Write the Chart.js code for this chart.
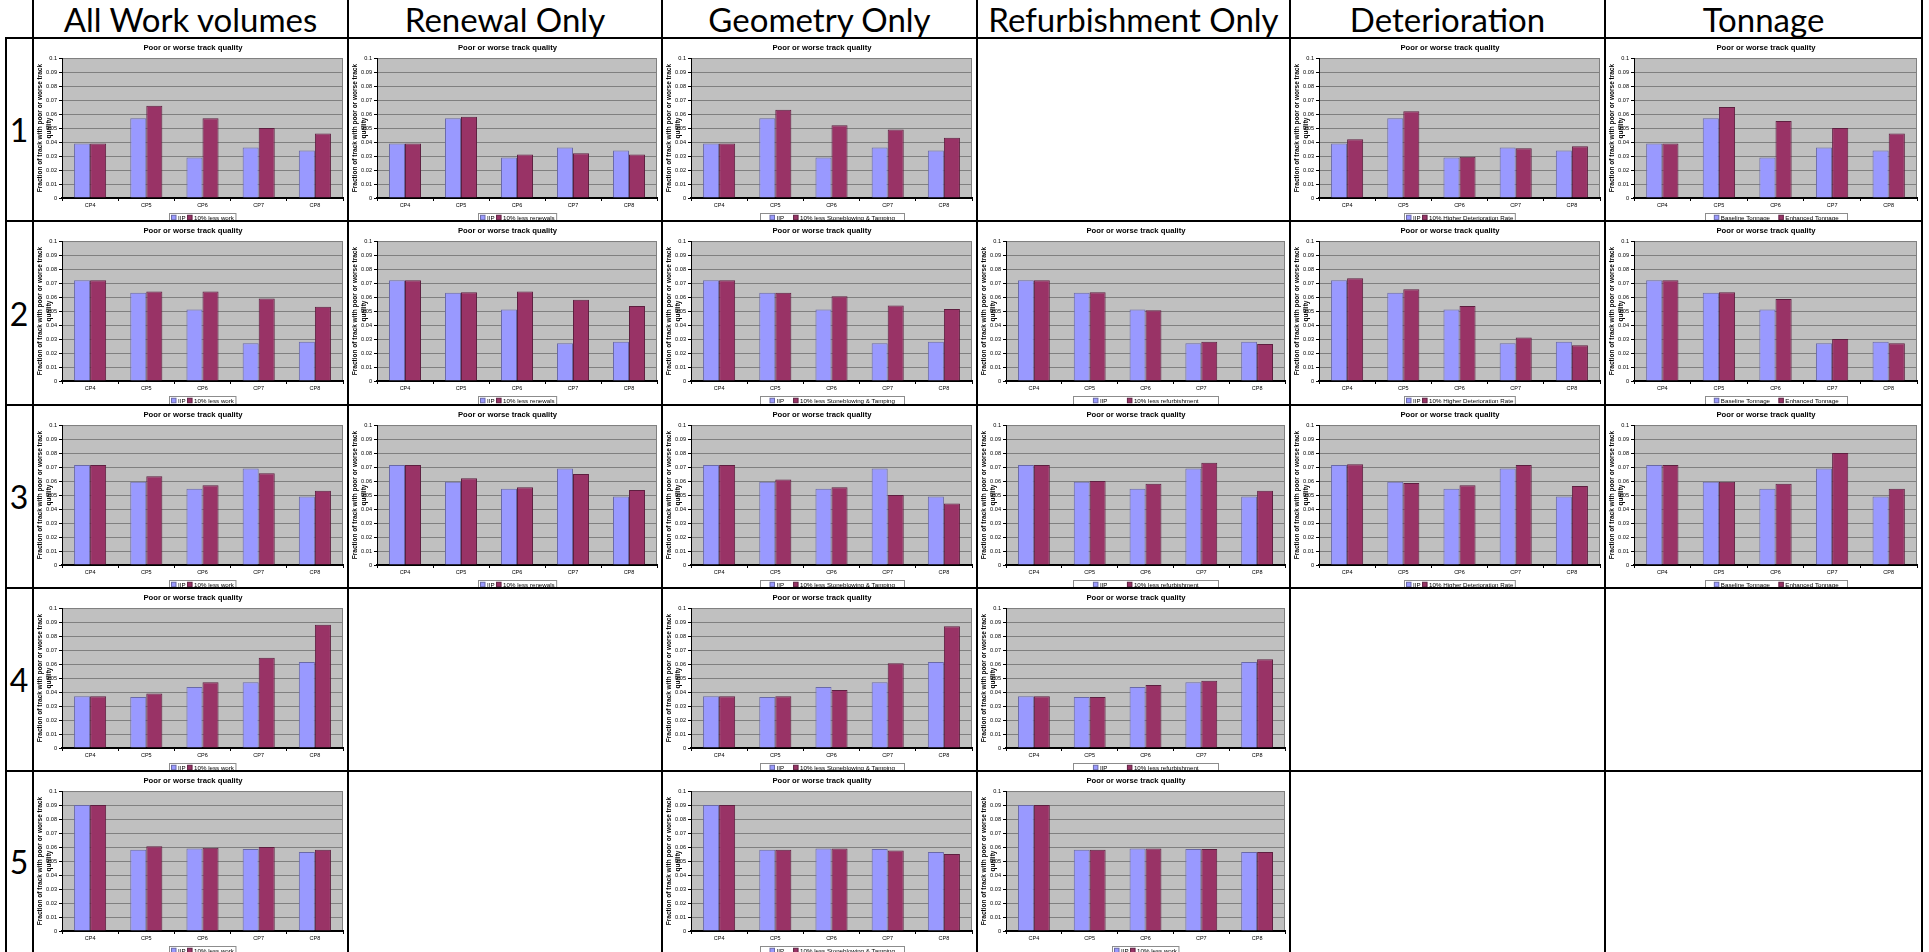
<!DOCTYPE html>
<html>
<head>
<meta charset="utf-8">
<script src="https://cdn.jsdelivr.net/npm/chart.js@4.4.1/dist/chart.umd.min.js"></script>
<style>
  html, body { margin: 0; padding: 0; background: #fff; }
  #sheet { position: relative; width: 1929px; height: 952px; overflow: hidden; }
  .rule { position: absolute; background: #000; z-index: 5; }
  .head, .rowno {
    position: absolute; display: flex; align-items: center; justify-content: center;
    font-family: Lato, "Liberation Sans", sans-serif; color: #000; white-space: nowrap;
  }
  .head { top: 0; height: 38px; font-size: 33px; }
  .rowno { left: 5px; width: 28px; font-size: 32px; }
  canvas { position: absolute; }
</style>
</head>
<body>
<div id="sheet"></div>
<script>
// ---- labels ----
const categories = ['CP4', 'CP5', 'CP6', 'CP7', 'CP8'];
const columnTitles = ['All Work volumes', 'Renewal Only', 'Geometry Only', 'Refurbishment Only', 'Deterioration', 'Tonnage'];
const rowLabels = ['1', '2', '3', '4', '5'];
const chartTitle = 'Poor or worse track quality';
const yAxisTitle = ['Fraction of track with poor or worse track', 'quality'];
const yAxisMax = 0.1;
const yAxisStep = 0.01;

// ---- baseline (IIP) per scenario row ----
const iip1 = [0.039, 0.057, 0.029, 0.036, 0.034];
const iip2 = [0.072, 0.063, 0.051, 0.027, 0.028];
const iip3 = [0.0715, 0.0595, 0.0545, 0.069, 0.049];
const iip4 = [0.037, 0.0365, 0.0435, 0.047, 0.0615];
const iip5 = [0.090, 0.058, 0.059, 0.0585, 0.0565];

// ---- 10% less work (all volumes) ----
const lessWork1 = [0.039, 0.066, 0.057, 0.050, 0.046];
const lessWork2 = [0.072, 0.064, 0.064, 0.059, 0.053];
const lessWork3 = [0.0715, 0.0635, 0.057, 0.0655, 0.053];
const lessWork4 = [0.037, 0.039, 0.047, 0.0645, 0.088];
const lessWork5 = [0.090, 0.0605, 0.0595, 0.060, 0.058];

// ---- 10% less renewals ----
const lessRenewals1 = [0.039, 0.058, 0.031, 0.032, 0.031];
const lessRenewals2 = [0.072, 0.0635, 0.064, 0.058, 0.0535];
const lessRenewals3 = [0.0715, 0.062, 0.0555, 0.065, 0.0535];

// ---- 10% less stoneblowing & tamping ----
const lessTamping1 = [0.039, 0.063, 0.052, 0.049, 0.043];
const lessTamping2 = [0.072, 0.063, 0.0605, 0.054, 0.0515];
const lessTamping3 = [0.0715, 0.061, 0.0555, 0.050, 0.044];
const lessTamping4 = [0.037, 0.037, 0.0415, 0.0605, 0.087];
const lessTamping5 = [0.090, 0.058, 0.059, 0.0575, 0.055];

// ---- 10% less refurbishment ----
const lessRefurb2 = [0.072, 0.0635, 0.0505, 0.028, 0.0265];
const lessRefurb3 = [0.0715, 0.060, 0.058, 0.073, 0.053];
const lessRefurb4 = [0.037, 0.0365, 0.045, 0.048, 0.0635];
const refurbLessWork5 = [0.090, 0.058, 0.059, 0.0585, 0.0565];

// ---- 10% higher deterioration rate ----
const higherDet1 = [0.042, 0.062, 0.0295, 0.0355, 0.037];
const higherDet2 = [0.0735, 0.0655, 0.0535, 0.031, 0.0255];
const higherDet3 = [0.072, 0.0585, 0.057, 0.0715, 0.0565];

// ---- enhanced tonnage ----
const enhancedTonnage1 = [0.039, 0.065, 0.055, 0.050, 0.046];
const enhancedTonnage2 = [0.072, 0.0635, 0.0585, 0.030, 0.027];
const enhancedTonnage3 = [0.0715, 0.0595, 0.058, 0.080, 0.0545];

// which panel sits in which cell of the table
const panels = [
  { row: 0, col: 0, names: ['IIP', '10% less work'], values: [iip1, lessWork1] },
  { row: 0, col: 1, names: ['IIP', '10% less renewals'], values: [iip1, lessRenewals1] },
  { row: 0, col: 2, names: ['IIP', '10% less Stoneblowing & Tamping'], values: [iip1, lessTamping1] },
  { row: 0, col: 4, names: ['IIP', '10% Higher Deterioration Rate'], values: [iip1, higherDet1] },
  { row: 0, col: 5, names: ['Baseline Tonnage', 'Enhanced Tonnage'], values: [iip1, enhancedTonnage1] },

  { row: 1, col: 0, names: ['IIP', '10% less work'], values: [iip2, lessWork2] },
  { row: 1, col: 1, names: ['IIP', '10% less renewals'], values: [iip2, lessRenewals2] },
  { row: 1, col: 2, names: ['IIP', '10% less Stoneblowing & Tamping'], values: [iip2, lessTamping2] },
  { row: 1, col: 3, names: ['IIP', '10% less refurbishment'], values: [iip2, lessRefurb2] },
  { row: 1, col: 4, names: ['IIP', '10% Higher Deterioration Rate'], values: [iip2, higherDet2] },
  { row: 1, col: 5, names: ['Baseline Tonnage', 'Enhanced Tonnage'], values: [iip2, enhancedTonnage2] },

  { row: 2, col: 0, names: ['IIP', '10% less work'], values: [iip3, lessWork3] },
  { row: 2, col: 1, names: ['IIP', '10% less renewals'], values: [iip3, lessRenewals3] },
  { row: 2, col: 2, names: ['IIP', '10% less Stoneblowing & Tamping'], values: [iip3, lessTamping3] },
  { row: 2, col: 3, names: ['IIP', '10% less refurbishment'], values: [iip3, lessRefurb3] },
  { row: 2, col: 4, names: ['IIP', '10% Higher Deterioration Rate'], values: [iip3, higherDet3] },
  { row: 2, col: 5, names: ['Baseline Tonnage', 'Enhanced Tonnage'], values: [iip3, enhancedTonnage3] },

  { row: 3, col: 0, names: ['IIP', '10% less work'], values: [iip4, lessWork4] },
  { row: 3, col: 2, names: ['IIP', '10% less Stoneblowing & Tamping'], values: [iip4, lessTamping4] },
  { row: 3, col: 3, names: ['IIP', '10% less refurbishment'], values: [iip4, lessRefurb4] },

  { row: 4, col: 0, names: ['IIP', '10% less work'], values: [iip5, lessWork5] },
  { row: 4, col: 2, names: ['IIP', '10% less Stoneblowing & Tamping'], values: [iip5, lessTamping5] },
  { row: 4, col: 3, names: ['IIP', '10% less work'], values: [iip5, refurbLessWork5] }
];

// ---- table geometry and styling ----
const colEdges = [33, 348, 662, 977, 1290, 1605, 1922];
const rowEdges = [38, 221, 405, 588, 771, 952];
const tableLeft = 6;
const seriesFill = ['#9999FF', '#993366'];
const seriesEdge = ['#6a6aa8', '#5e1f40'];
const legendMinWidth = { '10% less Stoneblowing & Tamping': 144, '10% less refurbishment': 145, 'Enhanced Tonnage': 142 };
const FONT = "'Liberation Sans', Arial, sans-serif";

Chart.defaults.font.family = FONT;
Chart.defaults.color = '#000';

const sheet = document.getElementById('sheet');

function rule(x, y, w, h) {
  const d = document.createElement('div');
  d.className = 'rule';
  Object.assign(d.style, { left: x + 'px', top: y + 'px', width: w + 'px', height: h + 'px' });
  sheet.appendChild(d);
}

// table rules
colEdges.forEach(x => rule(x - 1, 0, 2, 952));
rule(tableLeft - 1, rowEdges[0] - 1, 2, 952 - rowEdges[0] + 1);
rowEdges.slice(0, -1).forEach(y => rule(tableLeft - 1, y - 1, colEdges[colEdges.length - 1] - tableLeft + 2, 2));

// column headings and row numbers
columnTitles.forEach((t, i) => {
  const d = document.createElement('div');
  d.className = 'head';
  d.textContent = t;
  d.style.left = colEdges[i] + 'px';
  d.style.width = (colEdges[i + 1] - colEdges[i]) + 'px';
  sheet.appendChild(d);
});
rowLabels.forEach((t, i) => {
  const d = document.createElement('div');
  d.className = 'rowno';
  d.textContent = t;
  d.style.top = rowEdges[i] + 'px';
  d.style.height = (rowEdges[i + 1] - rowEdges[i]) + 'px';
  sheet.appendChild(d);
});

// grey plot area with its frame
const plotBackground = {
  id: 'plotBackground',
  beforeDraw(chart) {
    const { ctx, chartArea: a } = chart;
    ctx.save();
    ctx.fillStyle = '#C0C0C0';
    ctx.fillRect(a.left, a.top, a.width, a.height);
    ctx.strokeStyle = '#808080';
    ctx.lineWidth = 1;
    ctx.strokeRect(a.left + 0.5, a.top + 0.5, a.width - 1, a.height - 1);
    ctx.restore();
  }
};

// boxed legend centred under the plot area
const boxedLegend = {
  id: 'boxedLegend',
  afterDraw(chart, args, opts) {
    const { ctx, chartArea: a } = chart;
    const sets = chart.data.datasets;
    ctx.save();
    ctx.font = opts.fontSize + 'px ' + FONT;
    const sw = 4.5, gap = 2;
    const itemW = sets.map(d => sw + gap + ctx.measureText(d.label).width);
    const content = itemW.reduce((s, w) => s + w, 0);
    const boxW = Math.max(content + 6, opts.minWidth || 0);
    const space = (boxW - content) / (sets.length + 1);
    const x0 = Math.round((a.left + a.right) / 2 - boxW / 2) + 0.5;
    const y0 = opts.top + 0.5;
    ctx.fillStyle = '#fff';
    ctx.fillRect(x0, y0, boxW, opts.height);
    ctx.strokeStyle = '#8c8c8c';
    ctx.lineWidth = 1;
    ctx.strokeRect(x0, y0, boxW, opts.height);
    const cy = y0 + opts.height / 2;
    let x = x0 + space;
    sets.forEach((d, i) => {
      ctx.fillStyle = d.backgroundColor;
      ctx.fillRect(x, cy - sw / 2, sw, sw);
      ctx.strokeStyle = d.borderColor;
      ctx.strokeRect(x, cy - sw / 2, sw, sw);
      ctx.fillStyle = '#000';
      ctx.textBaseline = 'middle';
      ctx.textAlign = 'left';
      ctx.fillText(d.label, x + sw + gap, cy + 0.5);
      x += itemW[i] + space;
    });
    ctx.restore();
  }
};

panels.forEach(p => {
  const left = colEdges[p.col];
  const top = rowEdges[p.row];
  const W = colEdges[p.col + 1] - left;
  const H = rowEdges[p.row + 1] - top;
  const canvas = document.createElement('canvas');
  canvas.width = W; canvas.height = H;
  Object.assign(canvas.style, { left: left + 'px', top: top + 'px', width: W + 'px', height: H + 'px' });
  sheet.appendChild(canvas);

  new Chart(canvas, {
    type: 'bar',
    data: {
      labels: categories,
      datasets: p.values.map((vals, i) => ({
        label: p.names[i],
        data: vals,
        backgroundColor: seriesFill[i],
        borderColor: seriesEdge[i],
        borderWidth: 1,
        categoryPercentage: 0.571,
        barPercentage: 1.0
      }))
    },
    plugins: [plotBackground, boxedLegend],
    options: {
      responsive: false,
      animation: false,
      devicePixelRatio: 1,
      layout: { padding: { left: 10, right: 5, top: 0, bottom: 0 } },
      plugins: {
        legend: { display: false },
        tooltip: { enabled: false },
        title: {
          display: true,
          text: chartTitle,
          color: '#000',
          font: { size: 7.7, weight: 'bold', lineHeight: 1.2 },
          padding: { top: 5.4, bottom: 5.4 }
        },
        boxedLegend: { fontSize: 6.2, top: 175, height: 8, minWidth: legendMinWidth[p.names[1]] || 0 }
      },
      scales: {
        x: {
          ticks: { font: { size: 5.5 }, color: '#000', padding: 1, maxRotation: 0, autoSkip: false },
          grid: { display: true, drawOnChartArea: false, drawTicks: true, tickLength: 3, color: '#000', offset: true },
          border: { color: '#000', width: 2 },
          afterFit: s => { s.height = H - 160; }
        },
        y: {
          min: 0,
          max: yAxisMax,
          ticks: {
            stepSize: yAxisStep,
            font: { size: 5.6 },
            color: '#000',
            padding: 2,
            callback: v => String(+v.toFixed(2))
          },
          grid: { color: '#808080', lineWidth: 1, tickLength: 3, tickColor: '#000' },
          border: { color: '#000', width: 1 },
          title: {
            display: true,
            text: yAxisTitle,
            color: '#000',
            font: { size: 6.5, weight: 'bold', lineHeight: 1.35 },
            padding: { top: -7.4, bottom: 0 }
          },
          afterFit: s => { s.width = 19; }
        }
      }
    }
  });
});
</script>
</body>
</html>
